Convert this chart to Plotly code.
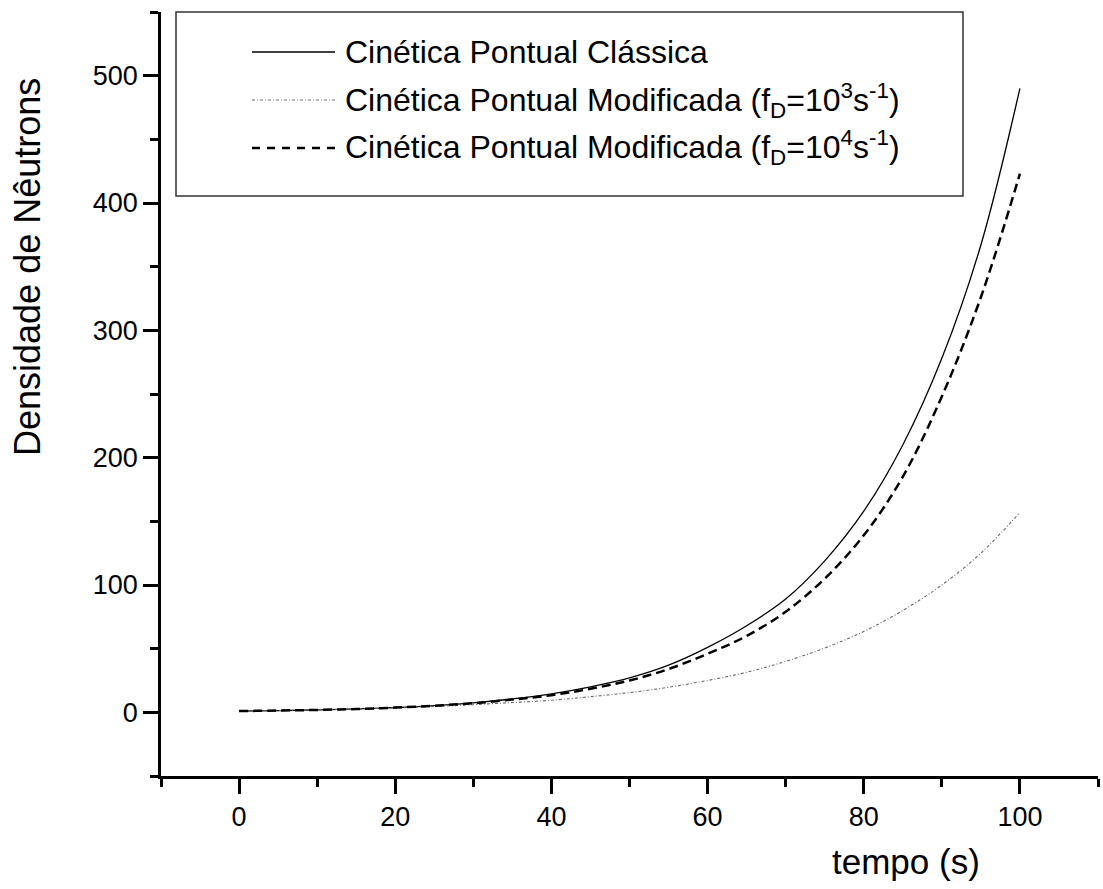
import plotly.graph_objects as go

# ---- data ----
tempo = [0, 5, 10, 15, 20, 25, 30, 35, 40, 45, 50, 55, 60, 65, 70, 75, 80, 85, 90, 95, 100]
classica = [1, 1.4, 1.9, 2.7, 3.8, 5.3, 7.5, 10.5, 14.5, 20, 27, 37, 51, 68, 89, 119,
            158, 210, 278, 367, 490]
modificada_1e3 = [1, 1.4, 1.9, 2.6, 3.5, 4.6, 6, 7.7, 9.5, 12.3, 15.5, 19.7, 25, 31.5,
                  40, 50.5, 63.5, 80, 100, 125, 157]
modificada_1e4 = [1, 1.4, 1.9, 2.6, 3.7, 5.2, 7.2, 10, 13.5, 18.5, 25, 34, 46, 60, 79,
                  105, 139, 185, 248, 326, 423]

nomes = [
    "Cinética Pontual Clássica",
    "Cinética Pontual Modificada (f<sub>D</sub>=10<sup>3</sup>s<sup>-1</sup>)",
    "Cinética Pontual Modificada (f<sub>D</sub>=10<sup>4</sup>s<sup>-1</sup>)",
]
x_ticks = [0, 20, 40, 60, 80, 100]
y_ticks = [0, 100, 200, 300, 400, 500]

FONT = "Liberation Sans, Arial, sans-serif"
W, H = 1103, 889
ML, MR, MT, MB = 161, 5, 12, 113

styles = [
    dict(color="black", width=1.3, dash="solid"),
    dict(color="#6a6a6a", width=1.1, dash="3px,2px,1px,2px"),
    dict(color="black", width=2.5, dash="9px,5px"),
]
series = [classica, modificada_1e3, modificada_1e4]

fig = go.Figure()
for nome, ys, st in zip(nomes, series, styles):
    fig.add_trace(go.Scatter(x=tempo, y=ys, mode="lines", name=nome,
                             line=dict(shape="spline", smoothing=1.0, **st),
                             showlegend=False))

pw = W - ML - MR
ph = H - MT - MB


def px2paper_x(px):
    return (px - ML) / pw


def px2paper_y(py):
    return (H - MB - py) / ph


shapes = []
annotations = []
# legend box
shapes.append(dict(type="rect", xref="paper", yref="paper",
                   x0=px2paper_x(176), x1=px2paper_x(963),
                   y0=px2paper_y(196), y1=px2paper_y(12),
                   line=dict(color="#333333", width=1.5), fillcolor="white", layer="above"))
rows = [52, 100, 148]
leg_dash = ["solid", "3px,2px,1px,2px", "8px,7px"]
leg_width = [1.3, 1.1, 2.5]
leg_col = ["black", "#6a6a6a", "black"]
for nome, ry, d, w, c in zip(nomes, rows, leg_dash, leg_width, leg_col):
    shapes.append(dict(type="line", xref="paper", yref="paper",
                       x0=px2paper_x(252), x1=px2paper_x(335),
                       y0=px2paper_y(ry), y1=px2paper_y(ry),
                       line=dict(color=c, width=w, dash=d), layer="above"))
    annotations.append(dict(text=nome, xref="paper", yref="paper",
                            x=px2paper_x(343), y=px2paper_y(ry),
                            xanchor="left", yanchor="middle", showarrow=False,
                            font=dict(family=FONT, size=32, color="black")))

# axis titles
annotations.append(dict(text="tempo (s)", xref="paper", yref="paper",
                        x=px2paper_x(906), y=px2paper_y(861),
                        xanchor="center", yanchor="middle", showarrow=False,
                        font=dict(family=FONT, size=35, color="black")))
annotations.append(dict(text="Densidade de Nêutrons", xref="paper", yref="paper",
                        x=px2paper_x(27), y=px2paper_y(267), textangle=-90,
                        xanchor="center", yanchor="middle", showarrow=False,
                        font=dict(family=FONT, size=36, color="black")))

axis_common = dict(showgrid=False, zeroline=False, showline=True, linecolor="black",
                   linewidth=2.5, ticks="outside", ticklen=15, tickwidth=2.5,
                   tickcolor="black",
                   tickfont=dict(family=FONT, size=27, color="black"))

fig.update_layout(
    width=W, height=H, autosize=False,
    margin=dict(l=ML, r=MR, t=MT, b=MB),
    paper_bgcolor="white", plot_bgcolor="white",
    xaxis=dict(range=[-10, 110], tickvals=x_ticks,
               minor=dict(dtick=10, tick0=0, ticks="outside", ticklen=8,
                          tickwidth=2.5, tickcolor="black"),
               **axis_common),
    yaxis=dict(range=[-50, 550], tickvals=y_ticks,
               minor=dict(dtick=50, tick0=0, ticks="outside", ticklen=8,
                          tickwidth=2.5, tickcolor="black"),
               **axis_common),
    shapes=shapes, annotations=annotations,
)

fig.write_html("out.html")
